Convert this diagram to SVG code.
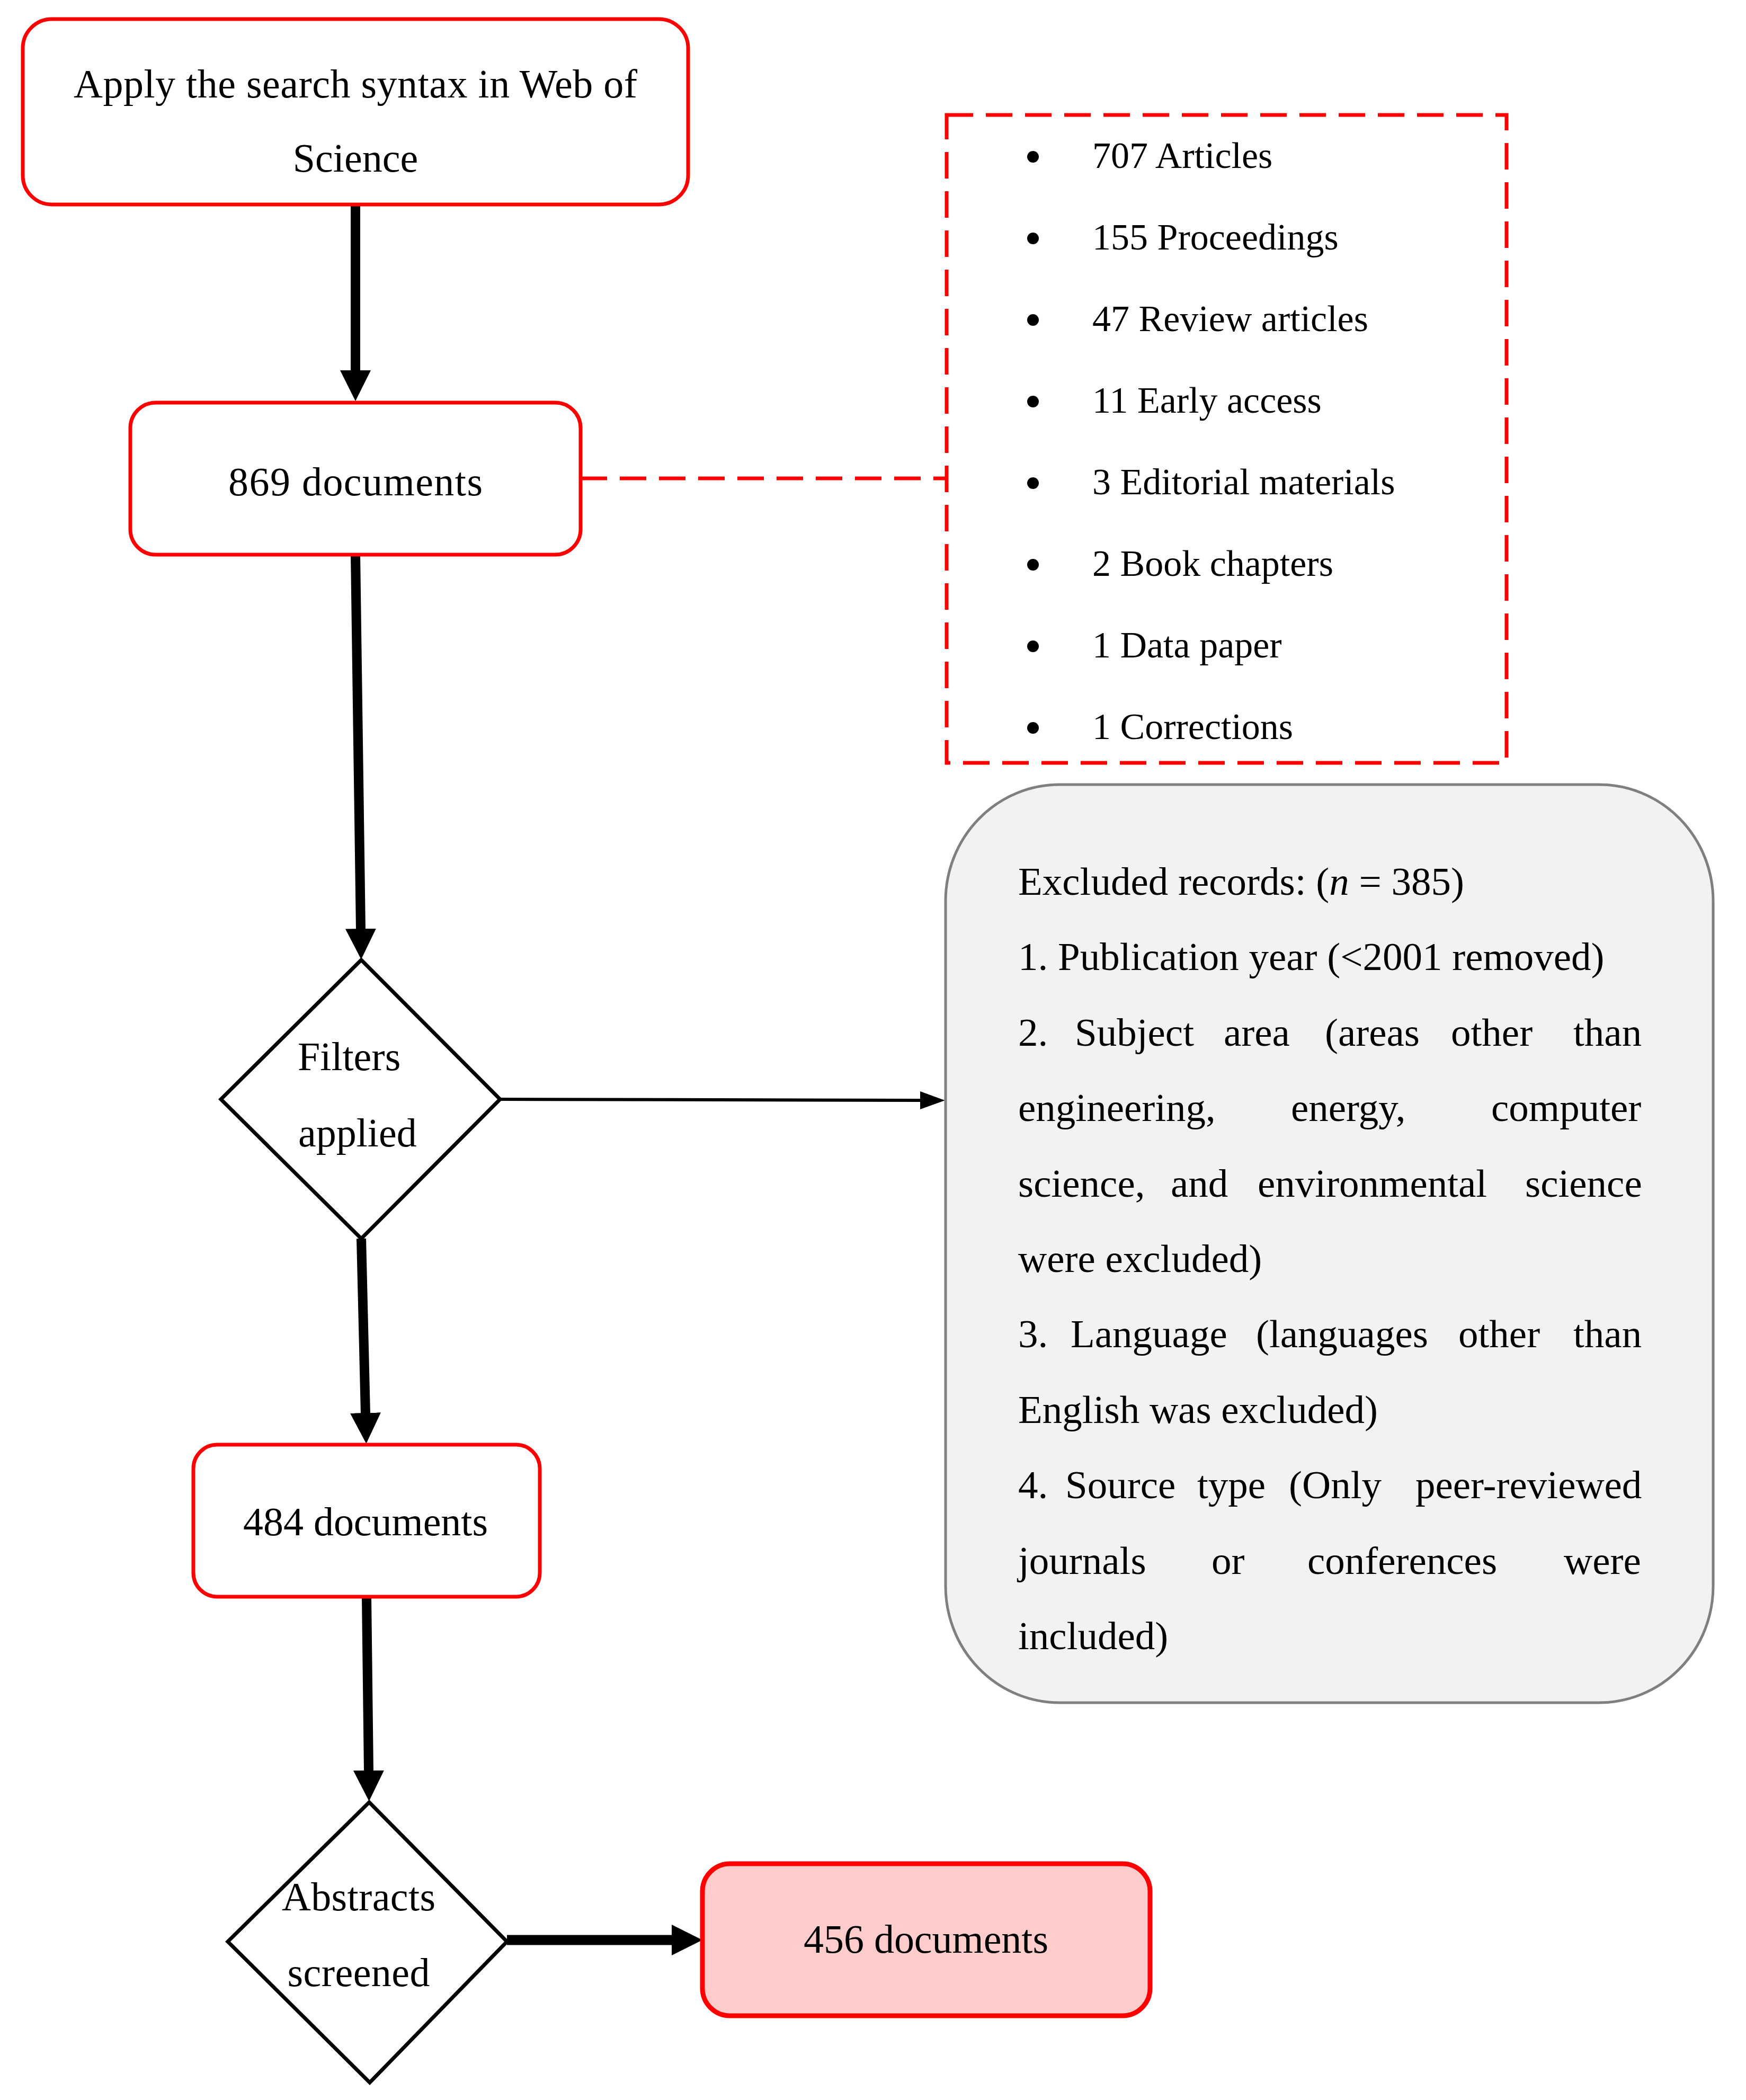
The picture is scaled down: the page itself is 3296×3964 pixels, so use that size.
<svg xmlns="http://www.w3.org/2000/svg" width="3296" height="3964" viewBox="0 0 3296 3964">
<style>
.t{font-family:"Liberation Serif","Times New Roman",serif;font-size:76px;fill:#000}
.g{font-family:"Liberation Serif","Times New Roman",serif;font-size:75px;fill:#000}
.b{font-family:"Liberation Serif","Times New Roman",serif;font-size:70px;fill:#000}
.rbox{fill:#fff;stroke:#ff0000;stroke-width:7}
.dia{fill:#fff;stroke:#000;stroke-width:7;stroke-linejoin:miter}
.thick{stroke:#000;stroke-width:18;fill:none}
.dash{stroke:#ff0000;stroke-width:7;fill:none;stroke-dasharray:50 24}
</style>
<defs>
<marker id="ah" markerUnits="userSpaceOnUse" markerWidth="62" markerHeight="62" refX="2" refY="29" orient="auto">
<path d="M0,0 L58,29 L0,58 Z" fill="#000"/>
</marker>
<marker id="ahs" markerUnits="userSpaceOnUse" markerWidth="50" markerHeight="40" refX="2" refY="17" orient="auto">
<path d="M0,0 L47,17 L0,34 Z" fill="#000"/>
</marker>
</defs>
<rect width="3296" height="3964" fill="#fff"/>

<g id="connectors">
<line class="thick" x1="671" y1="386" x2="671" y2="701" marker-end="url(#ah)"/>
<line class="thick" x1="671" y1="1047" x2="681" y2="1755" marker-end="url(#ah)"/>
<line class="thick" x1="682" y1="2338" x2="690" y2="2669" marker-end="url(#ah)"/>
<line class="thick" x1="692" y1="3015" x2="696" y2="3344" marker-end="url(#ah)"/>
<line x1="957" y1="3662" x2="1270" y2="3662" stroke="#000" stroke-width="19" marker-end="url(#ah)"/>
<line x1="944" y1="2075" x2="1739" y2="2077" stroke="#000" stroke-width="6" marker-end="url(#ahs)"/>
<line class="dash" x1="1096" y1="903" x2="1787" y2="903"/>
</g>

<g id="node-search">
<rect class="rbox" x="43" y="36" width="1256" height="350" rx="55" ry="55"/>
<text class="t" x="671" y="184" text-anchor="middle" textLength="1064">Apply the search syntax in Web of</text>
<text class="t" x="671" y="324" text-anchor="middle">Science</text>
</g>

<g id="node-869">
<rect class="rbox" x="246" y="760" width="850" height="287" rx="48" ry="48"/>
<text class="t" x="671" y="935" text-anchor="middle" textLength="480">869 documents</text>
</g>

<g id="node-types">
<rect class="dash" x="1787" y="217" width="1057" height="1223"/>
<g fill="#000">
<circle cx="1950" cy="296" r="11"/>
<circle cx="1950" cy="450" r="11"/>
<circle cx="1950" cy="604" r="11"/>
<circle cx="1950" cy="758" r="11"/>
<circle cx="1950" cy="912" r="11"/>
<circle cx="1950" cy="1066" r="11"/>
<circle cx="1950" cy="1220" r="11"/>
<circle cx="1950" cy="1374" r="11"/>
</g>
<text class="b" x="2062" y="317">707 Articles</text>
<text class="b" x="2062" y="471">155 Proceedings</text>
<text class="b" x="2062" y="625">47 Review articles</text>
<text class="b" x="2062" y="779">11 Early access</text>
<text class="b" x="2062" y="933">3 Editorial materials</text>
<text class="b" x="2062" y="1087">2 Book chapters</text>
<text class="b" x="2062" y="1241">1 Data paper</text>
<text class="b" x="2062" y="1395">1 Corrections</text>
</g>

<g id="node-filters">
<polygon class="dia" points="682,1812 944,2075 682,2338 417,2075"/>
<text class="t" x="562" y="2020">Filters</text>
<text class="t" x="563" y="2164">applied</text>
</g>

<g id="node-excluded">
<rect x="1785" y="1481" width="1449" height="1733" rx="215" ry="220" fill="#f2f2f2" stroke="#7f7f7f" stroke-width="5"/>
<text class="g" y="1689"><tspan x="1922">Excluded records: (</tspan><tspan font-style="italic">n</tspan><tspan> = 385)</tspan></text>
<text class="g" x="1922" y="1831">1. Publication year (&lt;2001 removed)</text>
<text class="g" y="1974"><tspan x="1922">2.</tspan><tspan x="2029">Subject</tspan><tspan x="2310">area</tspan><tspan x="2501">(areas</tspan><tspan x="2739">other</tspan><tspan x="2970">than</tspan></text>
<text class="g" y="2116"><tspan x="1922">engineering,</tspan><tspan x="2437">energy,</tspan><tspan x="2815">computer</tspan></text>
<text class="g" y="2259"><tspan x="1922">science,</tspan><tspan x="2210">and</tspan><tspan x="2374">environmental</tspan><tspan x="2879">science</tspan></text>
<text class="g" x="1922" y="2401">were excluded)</text>
<text class="g" y="2543"><tspan x="1922">3.</tspan><tspan x="2021">Language</tspan><tspan x="2371">(languages</tspan><tspan x="2753">other</tspan><tspan x="2970">than</tspan></text>
<text class="g" x="1922" y="2686">English was excluded)</text>
<text class="g" y="2828"><tspan x="1922">4.</tspan><tspan x="2011">Source</tspan><tspan x="2260">type</tspan><tspan x="2433">(Only</tspan><tspan x="2672">peer-reviewed</tspan></text>
<text class="g" y="2971"><tspan x="1922">journals</tspan><tspan x="2287">or</tspan><tspan x="2468">conferences</tspan><tspan x="2952">were</tspan></text>
<text class="g" x="1922" y="3113">included)</text>
</g>

<g id="node-484">
<rect class="rbox" x="365" y="2727" width="654" height="287" rx="45" ry="45"/>
<text class="t" x="690" y="2898" text-anchor="middle" textLength="462">484 documents</text>
</g>

<g id="node-abstracts">
<polygon class="dia" points="697,3402 957,3665 698,3931 430,3665"/>
<text class="t" x="677" y="3606" text-anchor="middle" textLength="290">Abstracts</text>
<text class="t" x="677" y="3749" text-anchor="middle" textLength="269">screened</text>
</g>

<g id="node-456">
<rect x="1326" y="3518" width="845" height="287" rx="52" ry="52" fill="#ffcccc" stroke="#ff0000" stroke-width="9"/>
<text class="t" x="1748" y="3686" text-anchor="middle" textLength="462">456 documents</text>
</g>
</svg>
